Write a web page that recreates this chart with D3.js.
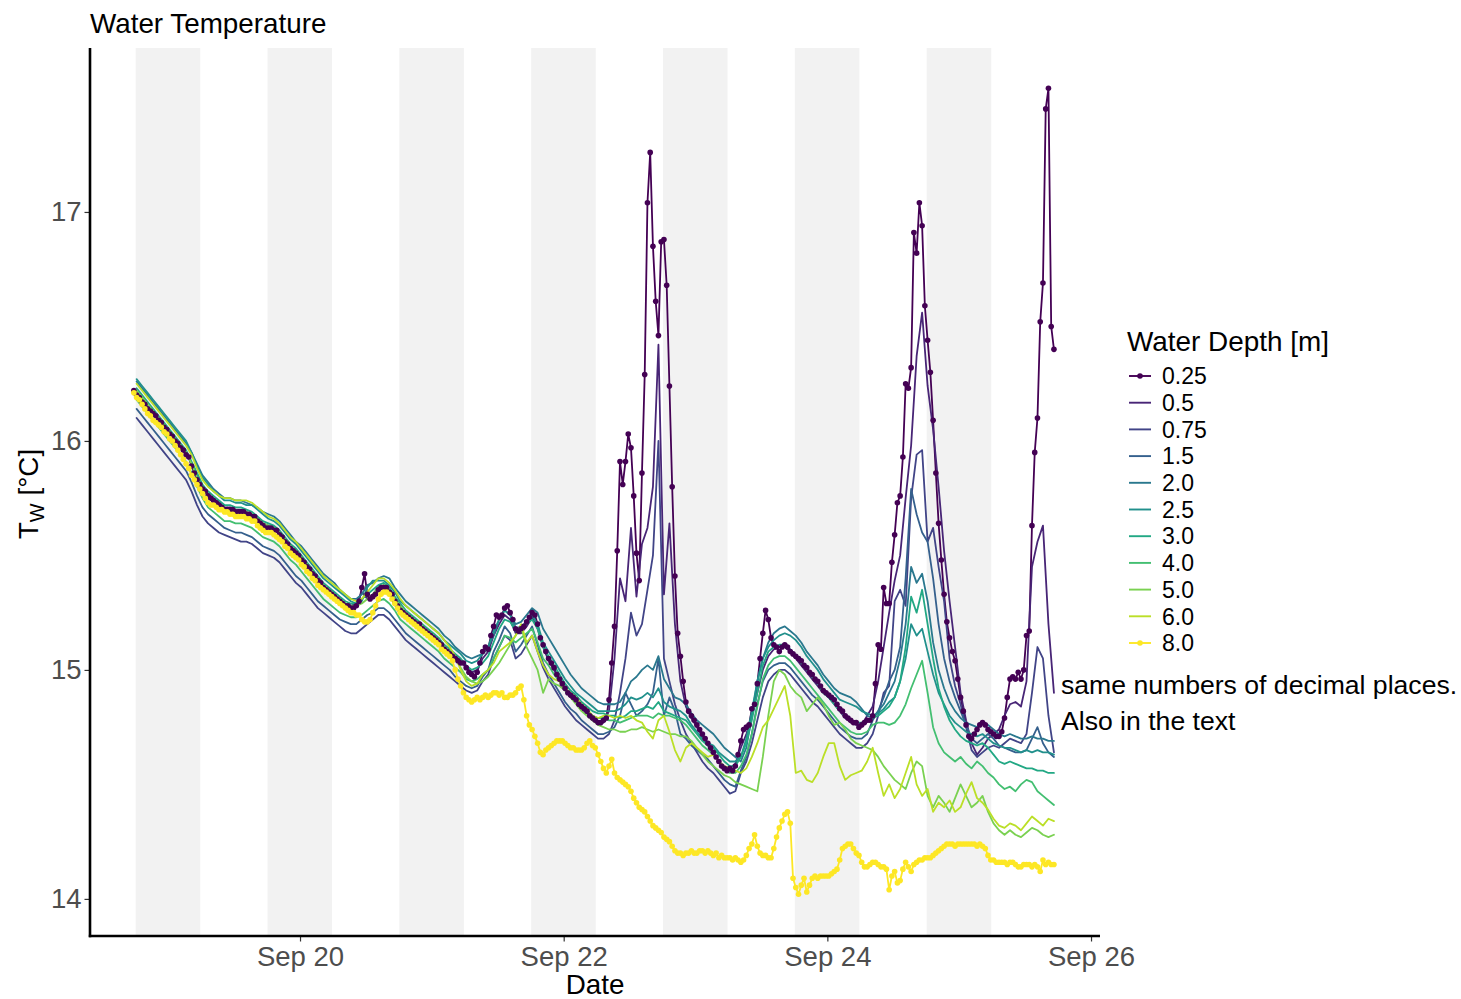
<!DOCTYPE html>
<html><head><meta charset="utf-8">
<script src="https://cdn.jsdelivr.net/npm/d3@7"></script>
<style>
body{margin:0;background:#fff;}
svg{display:block;}
text{font-family:"Liberation Sans",Arial,Helvetica,sans-serif;}
</style>
</head><body>
<svg id="chart" width="1461" height="999"></svg>
<script>
// ---------------- DATA ----------------
const depthLabels = ["0.25","0.5","0.75","1.5","2.0","2.5","3.0","4.0","5.0","6.0","8.0"];
const depthColors = ["#440154","#482576","#414487","#35608D","#2A788E","#21908C","#22A884","#43BF71","#7AD151","#BBDF27","#FDE725"];

// sampling: 0.25 m and 8.0 m every 30 min, the others hourly
const halfHourStart = "2021-09-18 17:45";
const halfHourCount = 336;
const hourStart = "2021-09-18 18:15";
const hourCount = 168;

const tw025 = [
16.22,16.20,16.19,16.17,16.16,16.14,16.13,16.12,16.11,16.09,
16.08,16.06,16.05,16.03,16.02,16.00,15.99,15.97,15.96,15.94,
15.93,15.89,15.86,15.83,15.81,15.79,15.78,15.76,15.75,15.74,
15.73,15.72,15.71,15.70,15.70,15.70,15.70,15.69,15.69,15.69,
15.69,15.68,15.68,15.67,15.67,15.65,15.64,15.63,15.62,15.62,
15.62,15.61,15.61,15.59,15.58,15.56,15.55,15.53,15.52,15.51,
15.50,15.48,15.47,15.45,15.44,15.42,15.41,15.39,15.38,15.36,
15.35,15.34,15.33,15.32,15.31,15.30,15.29,15.28,15.28,15.27,
15.27,15.28,15.30,15.36,15.42,15.33,15.31,15.32,15.33,15.35,
15.36,15.36,15.36,15.34,15.33,15.30,15.28,15.26,15.25,15.24,
15.23,15.22,15.21,15.20,15.20,15.18,15.17,15.16,15.15,15.14,
15.13,15.12,15.11,15.09,15.08,15.07,15.06,15.05,15.04,15.03,
15.03,15.01,14.99,14.98,14.97,14.99,15.03,15.08,15.10,15.09,
15.15,15.19,15.24,15.23,15.24,15.27,15.28,15.25,15.22,15.18,
15.17,15.18,15.19,15.21,15.23,15.25,15.24,15.20,15.14,15.11,
15.08,15.05,15.03,15.01,14.98,14.96,14.94,14.92,14.90,14.89,
14.88,14.87,14.85,14.84,14.83,14.82,14.80,14.79,14.78,14.77,
14.77,14.78,14.79,14.87,15.03,15.19,15.52,15.91,15.81,15.91,
16.03,15.97,15.76,15.51,15.39,15.86,16.29,17.04,17.26,16.85,
16.61,16.46,16.87,16.88,16.68,16.24,15.80,15.41,15.16,15.06,
14.95,14.86,14.82,14.80,14.78,14.76,14.74,14.72,14.70,14.68,
14.66,14.64,14.62,14.60,14.58,14.57,14.56,14.57,14.56,14.58,
14.63,14.69,14.74,14.75,14.76,14.83,14.85,14.94,15.05,15.16,
15.26,15.22,15.14,15.11,15.10,15.08,15.10,15.11,15.10,15.08,
15.07,15.06,15.05,15.04,15.02,15.01,14.99,14.98,14.96,14.95,
14.93,14.91,14.90,14.89,14.88,14.87,14.85,14.83,14.82,14.80,
14.79,14.78,14.77,14.77,14.75,14.76,14.77,14.78,14.78,14.80,
14.94,15.11,15.09,15.36,15.29,15.29,15.47,15.59,15.73,15.76,
15.93,16.25,16.23,16.32,16.91,16.82,17.04,16.94,16.59,16.44,
16.30,16.09,15.86,15.64,15.48,15.33,15.21,15.14,15.08,15.04,
14.96,14.88,14.82,14.76,14.71,14.70,14.72,14.74,14.76,14.77,
14.76,14.74,14.73,14.72,14.71,14.71,14.73,14.79,14.88,14.96,
14.97,14.96,14.99,14.96,15.00,15.15,15.17,15.63,15.95,16.10,
16.52,16.69,17.45,17.54,16.50,16.40];

const tw05 = [
16.21,16.18,16.15,16.13,16.10,16.07,16.04,16.01,15.98,15.95,
15.90,15.85,15.80,15.77,15.75,15.73,15.71,15.71,15.70,15.70,
15.69,15.68,15.66,15.64,15.63,15.62,15.60,15.57,15.54,15.52,
15.49,15.46,15.43,15.40,15.37,15.35,15.33,15.31,15.29,15.28,
15.29,15.34,15.31,15.33,15.36,15.37,15.35,15.31,15.27,15.25,
15.23,15.21,15.19,15.17,15.15,15.13,15.10,15.08,15.06,15.04,
15.01,14.99,15.00,15.05,15.08,15.15,15.20,15.24,15.22,15.16,
15.16,15.19,15.23,15.18,15.10,15.04,15.00,14.95,14.91,14.88,
14.86,14.83,14.81,14.78,14.77,14.77,14.82,15.05,15.40,15.30,
15.62,15.32,15.55,15.62,15.80,16.42,15.33,15.64,15.20,14.95,
14.84,14.79,14.75,14.71,14.67,14.63,14.60,14.57,14.57,14.59,
14.66,14.72,14.80,14.90,15.00,15.06,15.09,15.10,15.10,15.08,
15.05,15.02,14.99,14.96,14.93,14.90,14.88,14.85,14.82,14.79,
14.77,14.76,14.76,14.80,14.84,14.95,15.10,15.25,15.39,15.50,
15.75,15.98,16.37,16.56,16.24,16.05,15.80,15.52,15.30,15.10,
14.90,14.78,14.68,14.63,14.66,14.70,14.72,14.74,14.80,14.85,
14.86,14.84,14.95,15.45,15.56,15.63,15.20,14.90];

const tw075 = [
16.10,16.07,16.04,16.01,15.98,15.95,15.92,15.89,15.86,15.83,
15.78,15.72,15.67,15.64,15.62,15.60,15.59,15.58,15.57,15.56,
15.56,15.55,15.53,15.51,15.50,15.49,15.47,15.44,15.41,15.38,
15.36,15.33,15.30,15.27,15.25,15.23,15.21,15.19,15.17,15.16,
15.16,15.18,15.20,15.22,15.24,15.24,15.22,15.19,15.16,15.13,
15.11,15.09,15.07,15.05,15.03,15.01,14.99,14.97,14.95,14.93,
14.91,14.90,14.91,14.95,14.98,15.05,15.10,15.15,15.13,15.05,
15.07,15.11,15.15,15.08,15.01,14.96,14.92,14.88,14.84,14.81,
14.78,14.76,14.74,14.72,14.70,14.70,14.72,14.78,14.90,15.05,
15.25,15.15,15.20,15.35,15.50,16.00,15.05,14.95,14.85,14.78,
14.72,14.68,14.64,14.60,14.57,14.55,14.52,14.49,14.46,14.47,
14.55,14.60,14.68,14.78,14.88,14.95,14.98,15.00,15.00,14.98,
14.95,14.92,14.89,14.86,14.84,14.81,14.78,14.75,14.72,14.70,
14.68,14.66,14.66,14.68,14.72,14.80,14.90,14.93,15.30,15.35,
15.28,15.75,15.94,15.96,15.56,15.62,15.45,15.30,15.05,14.93,
14.85,14.75,14.65,14.62,14.64,14.66,14.67,14.66,14.68,14.70,
14.69,14.68,14.72,14.90,15.10,15.05,14.80,14.64];

const tw15 = [
16.14,16.11,16.08,16.05,16.02,15.99,15.96,15.93,15.90,15.87,
15.82,15.76,15.71,15.68,15.66,15.64,15.62,15.61,15.60,15.60,
15.59,15.58,15.56,15.54,15.53,15.52,15.50,15.47,15.44,15.41,
15.39,15.36,15.33,15.30,15.28,15.26,15.24,15.22,15.21,15.20,
15.20,15.22,15.24,15.25,15.27,15.27,15.25,15.22,15.19,15.16,
15.14,15.12,15.10,15.08,15.06,15.04,15.02,15.00,14.97,14.95,
14.93,14.92,14.93,14.97,15.00,15.08,15.13,15.19,15.16,15.08,
15.11,15.15,15.19,15.11,15.03,14.98,14.94,14.90,14.86,14.83,
14.81,14.78,14.76,14.74,14.72,14.72,14.73,14.75,14.80,14.90,
14.85,14.80,14.82,14.85,14.90,15.05,14.80,14.88,14.82,14.72,
14.70,14.67,14.65,14.63,14.61,14.58,14.55,14.52,14.50,14.49,
14.56,14.62,14.72,14.85,14.95,15.00,15.02,15.03,15.03,15.01,
14.98,14.95,14.92,14.89,14.87,14.84,14.81,14.78,14.75,14.73,
14.71,14.70,14.70,14.72,14.78,14.82,14.88,14.95,15.00,15.10,
15.40,15.79,15.68,15.60,15.56,15.40,15.20,15.05,14.95,14.88,
14.82,14.76,14.70,14.68,14.70,14.72,14.70,14.67,14.66,14.65,
14.64,14.64,14.65,14.70,14.75,14.68,14.64,14.62];

const tw20 = [
16.26,16.23,16.20,16.17,16.14,16.11,16.08,16.05,16.02,15.99,
15.95,15.90,15.85,15.82,15.79,15.77,15.75,15.75,15.74,15.74,
15.73,15.72,15.71,15.69,15.68,15.67,15.65,15.62,15.59,15.56,
15.54,15.51,15.48,15.45,15.42,15.40,15.38,15.35,15.33,15.31,
15.31,15.33,15.37,15.38,15.40,15.41,15.40,15.36,15.33,15.30,
15.28,15.26,15.24,15.22,15.20,15.18,15.15,15.13,15.10,15.08,
15.06,15.05,15.06,15.07,15.10,15.15,15.22,15.26,15.24,15.20,
15.21,15.24,15.27,15.25,15.18,15.14,15.10,15.06,15.02,14.98,
14.95,14.92,14.90,14.88,14.86,14.85,14.85,14.85,14.86,14.90,
14.95,14.97,15.00,15.02,15.00,15.06,14.96,14.92,14.88,14.87,
14.85,14.81,14.78,14.76,14.74,14.72,14.69,14.66,14.64,14.62,
14.60,14.66,14.80,14.95,15.05,15.12,15.16,15.18,15.19,15.17,
15.15,15.12,15.08,15.05,15.02,14.98,14.95,14.92,14.90,14.89,
14.88,14.86,14.83,14.80,14.79,14.82,14.85,14.90,14.95,15.05,
15.20,15.45,15.38,15.42,15.30,15.12,15.00,14.92,14.86,14.82,
14.79,14.77,14.76,14.75,14.77,14.76,14.74,14.72,14.71,14.72,
14.71,14.70,14.70,14.71,14.70,14.70,14.69,14.69];

const tw25 = [
16.27,16.24,16.21,16.18,16.15,16.12,16.09,16.06,16.03,16.00,
15.95,15.89,15.84,15.81,15.78,15.76,15.74,15.74,15.73,15.73,
15.72,15.72,15.70,15.68,15.66,15.65,15.63,15.60,15.57,15.55,
15.52,15.49,15.46,15.43,15.40,15.38,15.36,15.34,15.32,15.30,
15.29,15.30,15.36,15.39,15.39,15.39,15.37,15.34,15.30,15.28,
15.26,15.24,15.22,15.20,15.18,15.16,15.13,15.11,15.09,15.07,
15.04,15.03,15.04,15.07,15.10,15.17,15.22,15.26,15.24,15.18,
15.19,15.21,15.24,15.20,15.12,15.08,15.04,15.00,14.96,14.93,
14.90,14.88,14.86,14.84,14.82,14.82,14.82,14.82,14.83,14.85,
14.88,14.87,14.88,14.90,14.88,14.92,14.86,14.84,14.83,14.82,
14.80,14.76,14.73,14.70,14.68,14.67,14.64,14.62,14.60,14.60,
14.62,14.70,14.82,14.95,15.05,15.10,15.13,15.15,15.16,15.15,
15.13,15.10,15.06,15.03,15.00,14.96,14.93,14.90,14.87,14.86,
14.85,14.84,14.82,14.81,14.80,14.81,14.83,14.86,14.88,14.95,
15.05,15.20,15.15,15.18,15.08,14.98,14.90,14.85,14.80,14.77,
14.75,14.73,14.72,14.71,14.72,14.70,14.68,14.67,14.66,14.66,
14.65,14.64,14.65,14.64,14.65,14.64,14.64,14.63];

const tw30 = [
16.23,16.20,16.17,16.14,16.11,16.08,16.05,16.02,15.99,15.96,
15.91,15.86,15.81,15.78,15.76,15.74,15.72,15.72,15.71,15.71,
15.70,15.69,15.67,15.65,15.64,15.63,15.61,15.58,15.55,15.53,
15.50,15.47,15.44,15.41,15.38,15.36,15.34,15.32,15.30,15.29,
15.29,15.31,15.33,15.35,15.37,15.38,15.36,15.32,15.29,15.26,
15.24,15.22,15.20,15.18,15.16,15.14,15.11,15.09,15.07,15.05,
15.02,15.00,15.01,15.03,15.06,15.12,15.18,15.22,15.21,15.17,
15.18,15.20,15.22,15.18,15.10,15.06,15.02,14.98,14.94,14.91,
14.89,14.86,14.84,14.82,14.81,14.81,14.80,14.80,14.79,14.80,
14.82,14.82,14.83,14.84,14.83,14.86,14.82,14.81,14.80,14.79,
14.78,14.75,14.72,14.69,14.67,14.66,14.63,14.60,14.58,14.58,
14.62,14.68,14.78,14.90,15.02,15.08,15.10,15.11,15.11,15.09,
15.06,15.03,15.00,14.97,14.94,14.90,14.88,14.85,14.82,14.80,
14.78,14.77,14.77,14.78,14.79,14.80,14.82,14.84,14.88,14.95,
15.10,15.32,15.25,15.35,15.20,15.05,14.92,14.84,14.78,14.74,
14.71,14.69,14.68,14.67,14.68,14.66,14.63,14.60,14.59,14.60,
14.59,14.58,14.57,14.57,14.56,14.56,14.55,14.55];

const tw40 = [
16.18,16.15,16.12,16.09,16.06,16.03,16.00,15.97,15.94,15.91,
15.86,15.80,15.75,15.71,15.69,15.67,15.65,15.65,15.64,15.64,
15.63,15.62,15.60,15.58,15.57,15.56,15.54,15.51,15.48,15.46,
15.43,15.40,15.37,15.34,15.31,15.29,15.27,15.25,15.24,15.23,
15.23,15.24,15.26,15.28,15.30,15.31,15.29,15.26,15.22,15.20,
15.18,15.16,15.14,15.12,15.10,15.08,15.05,15.03,15.01,14.99,
14.96,14.95,14.96,14.98,15.00,15.05,15.10,15.15,15.14,15.12,
15.14,15.16,15.18,15.12,15.05,15.02,14.98,14.95,14.92,14.89,
14.86,14.84,14.82,14.80,14.79,14.79,14.78,14.78,14.77,14.78,
14.79,14.80,14.80,14.80,14.79,14.81,14.80,14.80,14.79,14.78,
14.76,14.73,14.70,14.67,14.65,14.63,14.60,14.57,14.55,14.55,
14.58,14.63,14.72,14.84,14.96,15.02,15.05,15.06,15.06,15.04,
15.01,14.98,14.95,14.92,14.89,14.86,14.83,14.80,14.77,14.75,
14.73,14.72,14.72,14.73,14.76,14.77,14.77,14.76,14.77,14.80,
14.85,14.92,14.98,15.04,14.90,14.75,14.68,14.64,14.62,14.60,
14.62,14.59,14.57,14.60,14.58,14.55,14.53,14.50,14.48,14.49,
14.47,14.50,14.52,14.51,14.47,14.45,14.43,14.41];

const tw50 = [
16.22,16.19,16.16,16.13,16.10,16.07,16.04,16.01,15.98,15.95,
15.90,15.84,15.79,15.76,15.74,15.72,15.71,15.70,15.70,15.69,
15.69,15.68,15.66,15.64,15.63,15.62,15.60,15.57,15.54,15.52,
15.49,15.46,15.43,15.40,15.37,15.35,15.33,15.31,15.29,15.28,
15.28,15.29,15.31,15.33,15.36,15.37,15.35,15.31,15.28,15.25,
15.23,15.21,15.19,15.17,15.15,15.13,15.10,15.08,15.05,15.01,
14.97,14.95,14.94,14.95,14.97,15.00,15.03,15.07,15.11,15.15,
15.19,15.10,15.05,15.00,14.90,14.96,14.94,14.93,14.91,14.88,
14.85,14.82,14.80,14.78,14.76,14.75,14.74,14.74,14.73,14.73,
14.74,14.74,14.75,14.74,14.73,14.74,14.73,14.72,14.72,14.71,
14.71,14.69,14.66,14.63,14.60,14.58,14.56,14.54,14.53,14.51,
14.50,14.49,14.48,14.47,14.62,14.80,14.95,15.00,14.98,14.93,
14.90,14.88,14.82,14.85,14.88,14.85,14.80,14.76,14.77,14.74,
14.70,14.68,14.67,14.66,14.65,14.62,14.58,14.55,14.52,14.50,
14.48,14.55,14.60,14.58,14.45,14.40,14.45,14.42,14.38,14.44,
14.50,14.45,14.40,14.42,14.45,14.38,14.33,14.30,14.28,14.30,
14.28,14.27,14.29,14.31,14.30,14.28,14.27,14.28];

const tw60 = [
16.25,16.22,16.19,16.16,16.13,16.10,16.07,16.04,16.01,15.98,
15.94,15.88,15.83,15.80,15.78,15.76,15.75,15.75,15.74,15.74,
15.74,15.73,15.71,15.69,15.67,15.66,15.64,15.61,15.58,15.56,
15.53,15.50,15.47,15.44,15.41,15.39,15.37,15.35,15.33,15.31,
15.30,15.31,15.34,15.37,15.40,15.40,15.38,15.35,15.31,15.28,
15.26,15.24,15.22,15.20,15.18,15.16,15.13,15.10,15.06,15.00,
14.95,14.93,14.94,14.98,15.00,15.03,15.08,15.10,15.12,15.15,
15.20,15.12,15.15,15.08,15.02,14.98,14.96,14.95,14.92,14.90,
14.88,14.85,14.83,14.80,14.79,14.80,14.80,14.79,14.80,14.79,
14.80,14.78,14.77,14.73,14.70,14.78,14.80,14.73,14.65,14.60,
14.66,14.68,14.66,14.64,14.62,14.63,14.60,14.58,14.57,14.56,
14.55,14.57,14.62,14.68,14.75,14.78,14.83,14.88,14.93,14.80,
14.55,14.56,14.52,14.51,14.55,14.62,14.68,14.68,14.58,14.52,
14.54,14.55,14.56,14.60,14.66,14.55,14.45,14.50,14.44,14.48,
14.55,14.62,14.50,14.45,14.48,14.38,14.42,14.40,14.43,14.38,
14.40,14.46,14.51,14.44,14.42,14.39,14.35,14.32,14.31,14.33,
14.32,14.30,14.33,14.36,14.34,14.32,14.35,14.34];

const tw80 = [
16.21,16.19,16.18,16.16,16.14,16.12,16.11,16.09,16.08,16.07,
16.06,16.04,16.03,16.01,16.00,15.98,15.96,15.94,15.92,15.90,
15.88,15.85,15.83,15.81,15.79,15.77,15.75,15.73,15.72,15.72,
15.71,15.70,15.70,15.69,15.69,15.68,15.68,15.67,15.67,15.67,
15.67,15.66,15.66,15.65,15.65,15.63,15.62,15.61,15.60,15.60,
15.60,15.59,15.58,15.57,15.56,15.54,15.53,15.51,15.50,15.49,
15.48,15.46,15.45,15.43,15.42,15.40,15.39,15.37,15.36,15.35,
15.34,15.33,15.32,15.31,15.30,15.29,15.28,15.27,15.26,15.25,
15.25,15.24,15.24,15.22,15.21,15.21,15.22,15.25,15.28,15.31,
15.33,15.34,15.34,15.33,15.31,15.29,15.27,15.25,15.24,15.23,
15.22,15.21,15.20,15.19,15.18,15.17,15.16,15.15,15.14,15.13,
15.12,15.11,15.09,15.08,15.07,15.06,15.04,15.00,14.96,14.93,
14.90,14.88,14.87,14.86,14.87,14.88,14.87,14.88,14.89,14.88,
14.89,14.90,14.90,14.89,14.90,14.88,14.88,14.89,14.89,14.90,
14.92,14.93,14.87,14.80,14.76,14.74,14.71,14.68,14.64,14.63,
14.65,14.66,14.67,14.68,14.69,14.69,14.69,14.68,14.67,14.66,
14.66,14.65,14.65,14.65,14.66,14.68,14.69,14.67,14.66,14.63,
14.60,14.57,14.55,14.58,14.61,14.55,14.53,14.52,14.51,14.50,
14.49,14.47,14.44,14.42,14.40,14.39,14.38,14.36,14.34,14.32,
14.31,14.30,14.29,14.27,14.26,14.25,14.23,14.21,14.20,14.20,
14.19,14.20,14.20,14.21,14.20,14.20,14.21,14.21,14.20,14.21,
14.20,14.19,14.20,14.18,14.19,14.18,14.18,14.18,14.17,14.18,
14.17,14.16,14.17,14.19,14.22,14.24,14.28,14.23,14.20,14.19,
14.19,14.18,14.18,14.22,14.27,14.31,14.34,14.37,14.38,14.33,
14.09,14.05,14.02,14.06,14.09,14.03,14.06,14.09,14.10,14.09,
14.10,14.10,14.10,14.10,14.11,14.12,14.13,14.17,14.22,14.23,
14.24,14.24,14.22,14.20,14.19,14.16,14.14,14.14,14.15,14.16,
14.16,14.15,14.14,14.14,14.13,14.04,14.10,14.12,14.07,14.08,
14.13,14.16,14.14,14.12,14.15,14.16,14.17,14.17,14.18,14.18,
14.18,14.19,14.20,14.21,14.22,14.23,14.24,14.24,14.24,14.23,
14.24,14.24,14.24,14.24,14.24,14.24,14.24,14.23,14.24,14.23,
14.22,14.19,14.17,14.17,14.16,14.16,14.16,14.16,14.15,14.16,
14.16,14.15,14.14,14.14,14.15,14.15,14.15,14.14,14.15,14.14,
14.12,14.17,14.15,14.16,14.15,14.15];

const yTicks = [14, 15, 16, 17];
const xTickDates = ["2021-09-20 00:00","2021-09-22 00:00","2021-09-24 00:00","2021-09-26 00:00"];
const xTickLabels = ["Sep 20","Sep 22","Sep 24","Sep 26"];
const nightStarts = ["2021-09-18 18:05","2021-09-19 18:05","2021-09-20 18:05","2021-09-21 18:05","2021-09-22 18:05","2021-09-23 18:05","2021-09-24 18:05"];
const nightEnds   = ["2021-09-19 05:50","2021-09-20 05:50","2021-09-21 05:50","2021-09-22 05:50","2021-09-23 05:50","2021-09-24 05:50","2021-09-25 05:50"];
const xDomain = ["2021-09-18 09:46","2021-09-26 01:38"];
const yDomain = [13.838, 17.716];
const noteLines = ["same numbers of decimal places.","Also in the text"];

// ---------------- CHART ----------------
const parse = d3.timeParse("%Y-%m-%d %H:%M");
const halfHourTimes = d3.range(halfHourCount).map(i => d3.timeMinute.offset(parse(halfHourStart), 30 * i));
const hourTimes = d3.range(hourCount).map(i => d3.timeMinute.offset(parse(hourStart), 60 * i));

const seriesDefs = [
  {values: tw025, times: halfHourTimes, dots: true},
  {values: tw05,  times: hourTimes},
  {values: tw075, times: hourTimes},
  {values: tw15,  times: hourTimes},
  {values: tw20,  times: hourTimes},
  {values: tw25,  times: hourTimes},
  {values: tw30,  times: hourTimes},
  {values: tw40,  times: hourTimes},
  {values: tw50,  times: hourTimes},
  {values: tw60,  times: hourTimes},
  {values: tw80,  times: halfHourTimes, dots: true}
].map((s, i) => ({
  label: depthLabels[i], color: depthColors[i], dots: !!s.dots,
  points: s.values.map((v, j) => ({t: s.times[j], v}))
}));

const pL = 90, pR = 1100, pT = 48, pB = 936;
const svg = d3.select("#chart");
svg.append("rect").attr("width", 1461).attr("height", 999).attr("fill", "#fff");

const x = d3.scaleTime().domain(xDomain.map(parse)).range([pL, pR]);
const y = d3.scaleLinear().domain(yDomain).range([pB, pT]);

// night shading
svg.append("g").selectAll("rect").data(d3.zip(nightStarts, nightEnds)).join("rect")
  .attr("x", d => x(parse(d[0])))
  .attr("width", d => x(parse(d[1])) - x(parse(d[0])))
  .attr("y", pT).attr("height", pB - pT)
  .attr("fill", "#F2F2F2");

// lines
const line = d3.line().x(d => x(d.t)).y(d => y(d.v));
const gLines = svg.append("g").attr("fill", "none").attr("stroke-linejoin", "round").attr("stroke-linecap", "round");
seriesDefs.forEach(s => {
  gLines.append("path").datum(s.points).attr("d", line)
    .attr("stroke", s.color).attr("stroke-width", 1.8);
});
// points
seriesDefs.filter(s => s.dots).forEach(s => {
  svg.append("g").selectAll("circle").data(s.points).join("circle")
    .attr("cx", d => x(d.t)).attr("cy", d => y(d.v)).attr("r", 2.8)
    .attr("fill", s.color);
});

// axes
const yAxis = d3.axisLeft(y).tickValues(yTicks).tickSize(5.5).tickSizeOuter(0).tickPadding(3).tickFormat(d3.format("d"));
const gy = svg.append("g").attr("transform", `translate(${pL},0)`).call(yAxis);
gy.select(".domain").remove();
gy.selectAll(".tick line").attr("stroke", "#333").attr("stroke-width", 1.2);
gy.selectAll(".tick text").attr("fill", "#4D4D4D").attr("font-size", 27.5);

const xAxis = d3.axisBottom(x).tickValues(xTickDates.map(parse)).tickFormat((d, i) => xTickLabels[i]).tickSize(5.5).tickSizeOuter(0).tickPadding(5);
const gx = svg.append("g").attr("transform", `translate(0,${pB})`).call(xAxis);
gx.select(".domain").remove();
gx.selectAll(".tick line").attr("stroke", "#333").attr("stroke-width", 1.2);
gx.selectAll(".tick text").attr("fill", "#4D4D4D").attr("font-size", 27.5);

svg.append("line").attr("x1", pL).attr("x2", pL).attr("y1", pT).attr("y2", pB + 1.2)
  .attr("stroke", "#000").attr("stroke-width", 2.6);
svg.append("line").attr("x1", pL - 1.2).attr("x2", pR).attr("y1", pB).attr("y2", pB)
  .attr("stroke", "#000").attr("stroke-width", 2.6);

// titles
svg.append("text").attr("x", 90).attr("y", 33).attr("font-size", 27.8).attr("fill", "#000").text("Water Temperature");
svg.append("text").attr("x", (pL + pR) / 2).attr("y", 994).attr("text-anchor", "middle")
  .attr("font-size", 27.8).attr("fill", "#000").text("Date");
const yt = svg.append("text").attr("transform", `translate(38,${(pT + pB) / 2 + 2}) rotate(-90)`)
  .attr("text-anchor", "middle").attr("font-size", 27.8).attr("fill", "#000");
yt.append("tspan").text("T");
yt.append("tspan").attr("font-size", 20).attr("dy", 6).text("W");
yt.append("tspan").attr("dy", -6).text(" [°C]");

// legend
const lg = svg.append("g").attr("transform", "translate(1127,0)");
lg.append("text").attr("x", 0).attr("y", 351).attr("font-size", 27.9).attr("fill", "#000").text("Water Depth [m]");
const ly = d3.scalePoint().domain(depthLabels).range([376, 643]);
const items = lg.selectAll("g.item").data(seriesDefs).join("g").attr("class", "item")
  .attr("transform", d => `translate(0,${ly(d.label)})`);
items.append("line").attr("x1", 2).attr("x2", 24).attr("y1", 0).attr("y2", 0)
  .attr("stroke", d => d.color).attr("stroke-width", 1.9);
items.filter(d => d.dots).append("circle").attr("cx", 13).attr("cy", 0).attr("r", 2.8).attr("fill", d => d.color);
items.append("text").attr("x", 35).attr("y", 0).attr("dy", "0.36em").attr("font-size", 23).attr("fill", "#000").text(d => d.label);

// note
svg.append("g").selectAll("text").data(noteLines).join("text")
  .attr("x", 1061).attr("y", (d, i) => 694 + 36 * i).attr("font-size", 26.6).attr("fill", "#000").text(d => d);
</script>
</body></html>
